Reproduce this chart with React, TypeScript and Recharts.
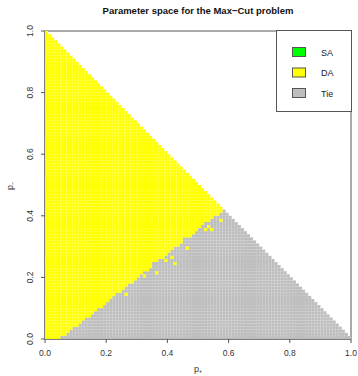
import React from 'react';
import {
  Legend,
  ReferenceArea,
  Scatter,
  ScatterChart,
  XAxis,
  YAxis,
} from 'recharts';

// grid resolution of the parameter sweep (p+ and p- in steps of 0.01)
const GRID_N = 100;
const GRID_STEP = 0.01;

// for each row of p- (bottom up), how many cells from the left DA wins;
// rows above the last entry are DA all the way to the p+ + p- = 1 edge
const DA_CELLS_PER_ROW = [
  5, 7, 8, 9, 11, 12, 13, 15, 16, 17,
  19, 20, 21, 22, 23, 25, 26, 27, 29, 30,
  31, 32, 34, 35, 36, 37, 39, 40, 41, 42,
  44, 45, 46, 48, 49, 50, 51, 52, 54, 55,
  57, 58,
];

// isolated cells that go the other way from their neighbours  [col, row]
const DA_STRAYS = [
  [26, 14], [32, 20], [36, 21], [39, 25], [41, 26], [42, 24],
  [46, 29], [52, 35], [54, 35], [53, 36], [57, 38],
];
const TIE_STRAYS = [[35, 24], [45, 32]];

const X_TICKS = [0, 0.2, 0.4, 0.6, 0.8, 1];
const Y_TICKS = [0, 0.2, 0.4, 0.6, 0.8, 1];

const LEGEND_ITEMS = [
  { name: 'SA', color: '#00FF00' },
  { name: 'DA', color: '#FFFF00' },
  { name: 'Tie', color: '#BEBEBE' },
];

const W = 358;
const H = 376;
const PLOT_LEFT = 45;
const PLOT_TOP = 31;
const PLOT_W = 306;
const PLOT_H = 308;
const Y_AXIS_W = 34;
const X_AXIS_H = 30;

const CELL_W = PLOT_W / GRID_N;
const CELL_H = PLOT_H / GRID_N;
const FONT = '"Liberation Sans", Arial, Helvetica, sans-serif';
const AXIS_COLOR = '#555';

type Pt = { x: number; y: number };

function buildCells() {
  const da: Pt[] = [];
  const tie: Pt[] = [];
  const flip = new Set<string>();
  DA_STRAYS.forEach(([i, j]) => flip.add(`${i},${j}`));
  TIE_STRAYS.forEach(([i, j]) => flip.add(`${i},${j}`));
  for (let j = 0; j < GRID_N; j++) {
    const daCount = j < DA_CELLS_PER_ROW.length ? DA_CELLS_PER_ROW[j] : GRID_N;
    for (let i = 0; i < GRID_N - j; i++) {
      let isDA = i < daCount;
      if (flip.has(`${i},${j}`)) isDA = !isDA;
      const p = { x: (i + 0.5) * GRID_STEP, y: (j + 0.5) * GRID_STEP };
      (isDA ? da : tie).push(p);
    }
  }
  return { da, tie };
}

const { da: daCells, tie: tieCells } = buildCells();

const cellShape = (fill: string) => (props: any) => (
  <rect
    x={props.cx - CELL_W / 2}
    y={props.cy - CELL_H / 2}
    width={CELL_W}
    height={CELL_H}
    fill={fill}
  />
);

function XTick({ x, y, payload }: any) {
  return (
    <text x={x} y={y} dy="0.71em" textAnchor="middle" fontSize={8.5} fill="#333" fontFamily={FONT}>
      {Number(payload.value).toFixed(1)}
    </text>
  );
}

function YTick({ x, y, payload }: any) {
  return (
    <text
      x={x}
      y={y}
      transform={`rotate(-90, ${x}, ${y})`}
      textAnchor="middle"
      fontSize={8.5}
      fill="#333"
      fontFamily={FONT}
    >
      {Number(payload.value).toFixed(1)}
    </text>
  );
}

function LegendBox() {
  return (
    <svg width={76} height={82} style={{ display: 'block' }}>
      <rect x={0.5} y={0.5} width={75} height={81} fill="#fff" stroke={AXIS_COLOR} />
      {LEGEND_ITEMS.map((it, k) => (
        <g key={it.name}>
          <rect x={16.5} y={17.5 + k * 20.5} width={13} height={9} fill={it.color} stroke="#555" />
          <text x={45} y={25.5 + k * 20.5} fontSize={9} fontFamily={FONT} fill="#222">
            {it.name}
          </text>
        </g>
      ))}
    </svg>
  );
}

export default function App() {
  return (
    <div style={{ position: 'absolute', left: 0, top: 0, width: W, height: H, background: '#fff' }}>
      <div
        style={{
          position: 'absolute',
          left: PLOT_LEFT,
          width: PLOT_W,
          top: 5,
          textAlign: 'center',
          fontFamily: FONT,
          fontWeight: 'bold',
          fontSize: 9.5,
          lineHeight: '12px',
          color: '#111',
        }}
      >
        Parameter space for the Max−Cut problem
      </div>

      <ScatterChart
        width={W}
        height={H}
        margin={{
          top: PLOT_TOP,
          right: W - PLOT_LEFT - PLOT_W,
          bottom: H - PLOT_TOP - PLOT_H - X_AXIS_H,
          left: PLOT_LEFT - Y_AXIS_W,
        }}
      >
        <XAxis
          type="number"
          dataKey="x"
          domain={[0, 1]}
          ticks={X_TICKS}
          interval={0}
          height={X_AXIS_H}
          tickSize={4}
          tickMargin={7}
          tick={<XTick />}
          axisLine={{ stroke: AXIS_COLOR }}
          tickLine={{ stroke: AXIS_COLOR }}
        />
        <YAxis
          type="number"
          dataKey="y"
          domain={[0, 1]}
          ticks={Y_TICKS}
          interval={0}
          width={Y_AXIS_W}
          tickSize={4}
          tickMargin={8}
          tick={<YTick />}
          axisLine={{ stroke: AXIS_COLOR }}
          tickLine={{ stroke: AXIS_COLOR }}
        />
        <Legend
          layout="vertical"
          align="center"
          verticalAlign="middle"
          content={() => <LegendBox />}
          wrapperStyle={{ left: 276, top: 30, width: 76, height: 82 }}
        />
        <Scatter name="Tie" data={tieCells} shape={cellShape('#BEBEBE')} isAnimationActive={false} />
        <Scatter name="DA" data={daCells} shape={cellShape('#FFFF00')} isAnimationActive={false} />
        <ReferenceArea x1={0} x2={1} y1={0} y2={1} fill="none" stroke={AXIS_COLOR} ifOverflow="visible" />
      </ScatterChart>

      <div
        style={{
          position: 'absolute',
          left: PLOT_LEFT,
          width: PLOT_W,
          top: 364,
          textAlign: 'center',
          fontFamily: FONT,
          fontSize: 9,
          lineHeight: '10px',
          color: '#333',
        }}
      >
        p₊
      </div>
      <div
        style={{
          position: 'absolute',
          left: 3,
          top: 180,
          width: 14,
          height: 12,
          transform: 'rotate(-90deg)',
          textAlign: 'center',
          fontFamily: FONT,
          fontSize: 9,
          lineHeight: '12px',
          color: '#333',
        }}
      >
        p₋
      </div>
    </div>
  );
}
